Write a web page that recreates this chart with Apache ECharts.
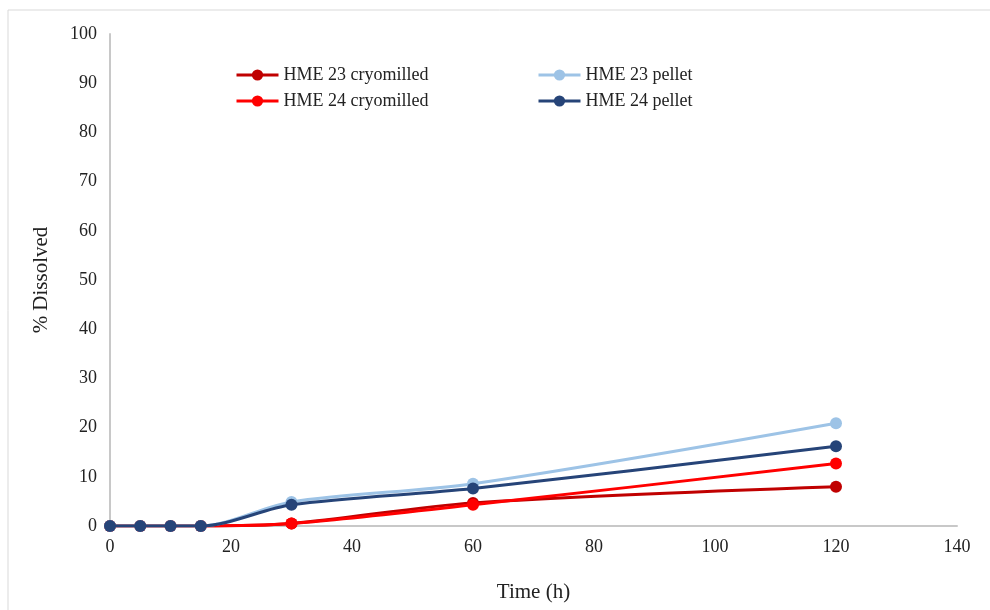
<!DOCTYPE html>
<html><head><meta charset="utf-8">
<script src="https://cdn.jsdelivr.net/npm/echarts@6/dist/echarts.min.js"></script>
<style>html,body{margin:0;padding:0;background:#fff}#c{width:990px;height:610px}</style>
</head><body><div id="c"></div>
<script>
const timeH = [0, 5, 10, 15, 30, 60, 120];
const hme23Cryo = [0, 0, 0, 0, 0.5, 4.7, 8.0];
const hme24Cryo = [0, 0, 0, 0, 0.5, 4.3, 12.7];
const hme23Pellet = [0, 0, 0, 0, 4.9, 8.6, 20.9];
const hme24Pellet = [0, 0, 0, 0, 4.3, 7.6, 16.2];
const names = ['HME 23 cryomilled', 'HME 24 cryomilled', 'HME 23 pellet', 'HME 24 pellet'];
const colors = ['#C00000', '#FF0000', '#9DC3E6', '#264478'];
const values = [hme23Cryo, hme24Cryo, hme23Pellet, hme24Pellet];
const font = 'Liberation Serif';

const chart = echarts.init(document.getElementById('c'), null, {renderer: 'canvas'});
const series = names.map((n, i) => ({
  name: n, type: 'line', smooth: 0.3,
  data: timeH.map((t, j) => [t, values[i][j]]),
  symbol: 'circle', symbolSize: 12,
  lineStyle: {width: 3, color: colors[i]},
  itemStyle: {color: colors[i]},
  z: 2 + i
}));
const legendText = {fontFamily: font, fontSize: 18, color: '#222'};
const legendBase = {orient: 'vertical', itemGap: 8, itemWidth: 42, itemHeight: 14, padding: 0,
  textStyle: legendText, lineStyle: {width: 3}};
chart.setOption({
  animation: false,
  graphic: [{type: 'rect', shape: {x: 8, y: 10, width: 1000, height: 620},
    style: {fill: 'none', stroke: '#d9d9d9', lineWidth: 1}, silent: true}],
  grid: {left: 110, top: 34, right: 33, bottom: 84},
  legend: [
    Object.assign({data: names.slice(0, 2), left: 235, top: 66}, legendBase),
    Object.assign({data: names.slice(2, 4), left: 537, top: 66}, legendBase)
  ],
  xAxis: {type: 'value', min: 0, max: 140, interval: 20,
    name: 'Time (h)', nameLocation: 'middle', nameGap: 56,
    nameTextStyle: {fontFamily: font, fontSize: 21, color: '#222'},
    axisLine: {lineStyle: {color: '#c8c8c8', width: 2}},
    axisTick: {show: false}, splitLine: {show: false},
    axisLabel: {fontFamily: font, fontSize: 18, color: '#222', margin: 12}},
  yAxis: {type: 'value', min: 0, max: 100, interval: 10,
    name: '% Dissolved', nameLocation: 'middle', nameGap: 58,
    nameTextStyle: {fontFamily: font, fontSize: 21, color: '#222'},
    axisLine: {show: true, lineStyle: {color: '#c8c8c8', width: 2}},
    axisTick: {show: false}, splitLine: {show: false},
    axisLabel: {fontFamily: font, fontSize: 18, color: '#222', margin: 13}},
  series: series
});
</script></body></html>
